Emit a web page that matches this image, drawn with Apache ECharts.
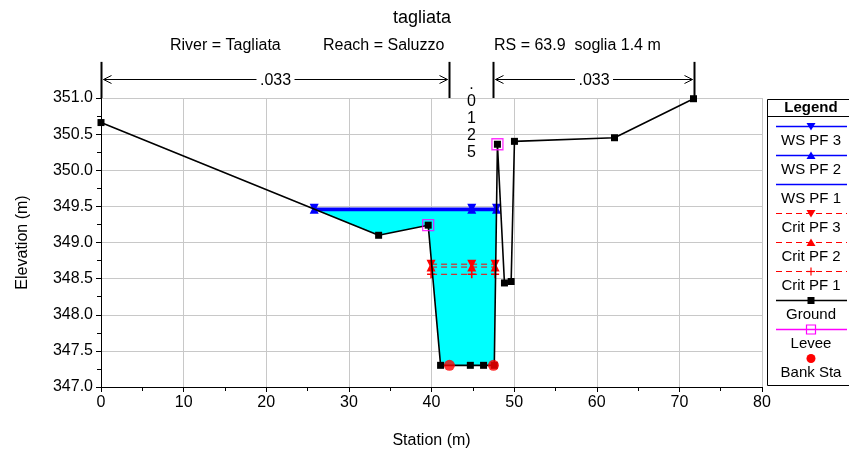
<!DOCTYPE html>
<html>
<head>
<meta charset="utf-8">
<script src="https://cdn.jsdelivr.net/npm/echarts@6/dist/echarts.min.js"></script>
<style>html,body{margin:0;padding:0;background:#fff}#c{width:849px;height:457px}</style>
</head>
<body>
<div id="c"></div>
<script>
// ---- data ----
const groundStation = [0, 33.6, 39.6, 41.1, 44.7, 46.3, 47.6, 47.98, 48.83, 49.64, 50.04, 62.15, 71.71];
const groundElev    = [350.66, 349.10, 349.24, 347.30, 347.30, 347.30, 347.30, 350.36, 348.44, 348.46, 350.40, 350.45, 350.99];
const wsStation = [25.8, 44.87, 47.87];
const wsPF1 = [349.445, 349.445, 349.445];
const wsPF2 = [349.46, 349.46, 349.46];
const wsPF3 = [349.475, 349.475, 349.475];
const critStation = [39.95, 44.87, 47.7];
const critPF1 = [348.56, 348.56, 348.56];
const critPF2 = [348.66, 348.66, 348.66];
const critPF3 = [348.70, 348.70, 348.70];
const waterStation = [25.8, 33.6, 39.6, 41.1, 44.7, 46.3, 47.6, 47.87];
const waterElev    = [349.46, 349.10, 349.24, 347.30, 347.30, 347.30, 347.30, 349.46];
const leveeStation = [39.6, 47.98];
const leveeElev    = [349.24, 350.36];
const bankStation  = [42.17, 47.5];
const bankElev     = [347.30, 347.30];
const nBounds = [0, 42.17, 47.5, 71.71];
const nValues = ['.033', '.0125', '.033'];
const legendNames = ['WS PF 3', 'WS PF 2', 'WS PF 1', 'Crit PF 3', 'Crit PF 2', 'Crit PF 1', 'Ground', 'Levee', 'Bank Sta'];

const FONT = 'Liberation Sans, Arial, sans-serif';
const zip = (a, b) => a.map((v, i) => [v, b[i]]);
const plusPath = 'path://M4,0H6V4H10V6H6V10H4V6H0V4H4Z';

const chart = echarts.init(document.getElementById('c'), null, {renderer: 'canvas'});

function lineSeries(name, xs, ys, color, dashed, symbol, z) {
  return {
    name, type: 'line', data: zip(xs, ys), z,
    lineStyle: {color, width: dashed ? 1 : 1.6, type: dashed ? [6, 4] : 'solid'},
    itemStyle: {color},
    symbol: symbol || 'none', symbolSize: symbol === plusPath ? 8 : 9, showSymbol: !!symbol,
    animation: false
  };
}

// Legend (drawn as graphic text/shapes)
const legendStyles = [
  {color: '#0000ff', dash: false, sym: 'down'},
  {color: '#0000ff', dash: false, sym: 'up'},
  {color: '#0000ff', dash: false, sym: null},
  {color: '#ff0000', dash: true, sym: 'down'},
  {color: '#ff0000', dash: true, sym: 'up'},
  {color: '#ff0000', dash: true, sym: 'plus'},
  {color: '#000000', dash: false, sym: 'square'},
  {color: '#ff00ff', dash: false, sym: 'levee'},
  {color: '#ff0000', dash: false, sym: 'circle', noLine: true}
];
const gfx = [];
const LX = 767.5, LCX = 811, LY0 = 125.5, LSTEP = 29;
gfx.push({type: 'rect', shape: {x: LX, y: 99.5, width: 120, height: 286}, style: {fill: '#fff', stroke: '#000', lineWidth: 1}, z: 10});
gfx.push({type: 'text', x: LCX, y: 107.5, style: {text: 'Legend', font: 'bold 15px ' + FONT, fill: '#000', textAlign: 'center', textVerticalAlign: 'middle'}, z: 11});
gfx.push({type: 'line', shape: {x1: LX, y1: 116.5, x2: 849, y2: 116.5}, style: {stroke: '#000', lineWidth: 1}, z: 11});
legendNames.forEach((n, i) => {
  const st = legendStyles[i];
  const y = Math.round(LY0 + LSTEP * i) + 0.5;
  if (!st.noLine) {
    gfx.push({type: 'line', shape: {x1: 776, y1: y, x2: 847, y2: y}, style: {stroke: st.color, lineWidth: st.dash ? 1.2 : 1.6, lineDash: st.dash ? [6, 4] : null}, z: 11});
  }
  const s = 4.5;
  if (st.sym === 'down') gfx.push({type: 'polygon', shape: {points: [[LCX - s, y - 3.5], [LCX + s, y - 3.5], [LCX, y + 4]]}, style: {fill: st.color}, z: 12});
  if (st.sym === 'up') gfx.push({type: 'polygon', shape: {points: [[LCX - s, y + 3.5], [LCX + s, y + 3.5], [LCX, y - 4]]}, style: {fill: st.color}, z: 12});
  if (st.sym === 'plus') {
    gfx.push({type: 'line', shape: {x1: LCX - 4, y1: y, x2: LCX + 4, y2: y}, style: {stroke: st.color, lineWidth: 1.2}, z: 12});
    gfx.push({type: 'line', shape: {x1: LCX, y1: y - 4, x2: LCX, y2: y + 4}, style: {stroke: st.color, lineWidth: 1.2}, z: 12});
  }
  if (st.sym === 'square') gfx.push({type: 'rect', shape: {x: LCX - 3.5, y: y - 3.5, width: 7, height: 7}, style: {fill: '#000'}, z: 12});
  if (st.sym === 'levee') gfx.push({type: 'rect', shape: {x: LCX - 4.5, y: y - 4.5, width: 9, height: 9}, style: {fill: 'none', stroke: st.color, lineWidth: 1.2}, z: 12});
  if (st.sym === 'circle') gfx.push({type: 'circle', shape: {cx: LCX, cy: y, r: 4.5}, style: {fill: st.color}, z: 12});
  gfx.push({type: 'text', x: LCX, y: y + 14, style: {text: n, font: '15px ' + FONT, fill: '#000', textAlign: 'center', textVerticalAlign: 'middle'}, z: 12});
});

// title texts
gfx.push({type: 'text', x: 422, y: 18, style: {text: 'tagliata', font: '18px ' + FONT, fill: '#000', textAlign: 'center', textVerticalAlign: 'middle'}});
gfx.push({type: 'text', x: 170, y: 46, style: {text: 'River = Tagliata', font: '16px ' + FONT, fill: '#000', textAlign: 'left', textVerticalAlign: 'middle'}});
gfx.push({type: 'text', x: 323, y: 46, style: {text: 'Reach = Saluzzo', font: '16px ' + FONT, fill: '#000', textAlign: 'left', textVerticalAlign: 'middle'}});
gfx.push({type: 'text', x: 494, y: 46, style: {text: 'RS = 63.9  soglia 1.4 m', font: '16px ' + FONT, fill: '#000', textAlign: 'left', textVerticalAlign: 'middle'}});

const ARROW_ELEV = 351.265, BAR_TOP = 351.5;

const option = {
  animation: false,
  textStyle: {fontFamily: FONT},
  grid: {left: 101, right: 87, top: 98, bottom: 70},
  xAxis: {
    type: 'value', min: 0, max: 80, interval: 10,
    name: 'Station (m)', nameLocation: 'middle', nameGap: 46,
    nameTextStyle: {fontSize: 16, color: '#000', fontFamily: FONT},
    axisLine: {show: true, onZero: false, lineStyle: {color: '#000', width: 1}},
    axisTick: {show: true, length: 5, lineStyle: {color: '#000'}},
    minorTick: {show: true, splitNumber: 2, length: 4, lineStyle: {color: '#000'}},
    axisLabel: {fontSize: 16, color: '#000', margin: 8, fontFamily: FONT},
    splitLine: {show: true, lineStyle: {color: '#c8c8c8', width: 1}}
  },
  yAxis: {
    type: 'value', min: 347, max: 351, interval: 0.5,
    name: 'Elevation (m)', nameLocation: 'middle', nameGap: 70,
    nameTextStyle: {fontSize: 16, color: '#000', fontFamily: FONT},
    axisLine: {show: true, onZero: false, lineStyle: {color: '#000', width: 1}},
    axisTick: {show: true, length: 5, lineStyle: {color: '#000'}},
    minorTick: {show: true, splitNumber: 2, length: 4, lineStyle: {color: '#000'}},
    axisLabel: {fontSize: 16, color: '#000', margin: 8, fontFamily: FONT, formatter: v => v.toFixed(1)},
    splitLine: {show: true, lineStyle: {color: '#c8c8c8', width: 1}}
  },
  graphic: gfx,
  series: [
    {
      type: 'custom', name: 'water', z: 1, clip: true,
      data: zip(waterStation, waterElev),
      renderItem: (params, api) => {
        if (params.dataIndex !== 0) return null;
        const pts = waterStation.map((s, i) => api.coord([s, waterElev[i]]));
        return {type: 'polygon', shape: {points: pts}, style: {fill: '#00ffff', stroke: null}};
      },
      animation: false
    },
    lineSeries('WS PF 1', wsStation, wsPF1, '#0000ff', false, null, 3),
    lineSeries('WS PF 2', wsStation, wsPF2, '#0000ff', false, 'triangle', 3),
    Object.assign(lineSeries('WS PF 3', wsStation, wsPF3, '#0000ff', false, 'triangle', 3), {symbolRotate: 180}),
    lineSeries('Crit PF 1', critStation, critPF1, '#ff0000', true, plusPath, 4),
    lineSeries('Crit PF 2', critStation, critPF2, '#ff0000', true, 'triangle', 4),
    Object.assign(lineSeries('Crit PF 3', critStation, critPF3, '#ff0000', true, 'triangle', 4), {symbolRotate: 180}),
    Object.assign(lineSeries('Ground', groundStation, groundElev, '#000000', false, 'rect', 5), {symbolSize: 7}),
    {
      name: 'Levee', type: 'scatter', data: zip(leveeStation, leveeElev), z: 6,
      symbol: 'rect', symbolSize: 11,
      itemStyle: {color: 'rgba(0,0,0,0)', borderColor: '#ff00ff', borderWidth: 1.3}
    },
    {
      name: 'Bank Sta', type: 'scatter', data: zip(bankStation, bankElev), z: 7,
      symbol: 'circle', symbolSize: 11, itemStyle: {color: '#ff0000'}
    },
    {
      type: 'custom', name: 'n', z: 8, clip: false,
      data: nValues.map((v, i) => [nBounds[i], nBounds[i + 1], 351]),
      encode: {x: [0, 1], y: 2},
      renderItem: (params, api) => {
        const i = params.dataIndex;
        const a = api.coord([api.value(0), ARROW_ELEV]);
        const b = api.coord([api.value(1), ARROW_ELEV]);
        const top = api.coord([0, BAR_TOP])[1];
        const bot = api.coord([0, 351])[1];
        const y = Math.round(a[1]) + 0.5;
        const x0 = Math.round(a[0]) + 0.5, x1 = Math.round(b[0]) + 0.5;
        const st = {stroke: '#000', lineWidth: 1};
        const ch = [];
        ch.push({type: 'line', shape: {x1: x1, y1: top, x2: x1, y2: bot}, style: {stroke: '#000', lineWidth: 2}});
        if (i === 0) ch.push({type: 'line', shape: {x1: x0, y1: top, x2: x0, y2: bot}, style: {stroke: '#000', lineWidth: 2}});
        const txt = nValues[i];
        if (x1 - x0 > 60) {
          const cx = (x0 + x1) / 2;
          const L = x0 + 2, R = x1 - 2;
          ch.push({type: 'line', shape: {x1: L, y1: y, x2: cx - 19, y2: y}, style: st});
          ch.push({type: 'line', shape: {x1: cx + 19, y1: y, x2: R, y2: y}, style: st});
          ch.push({type: 'polyline', shape: {points: [[L + 8, y - 4], [L, y], [L + 8, y + 4]]}, style: Object.assign({fill: null}, st)});
          ch.push({type: 'polyline', shape: {points: [[R - 8, y - 4], [R, y], [R - 8, y + 4]]}, style: Object.assign({fill: null}, st)});
          ch.push({type: 'text', x: cx, y: y + 1, style: {text: txt, font: '16px ' + FONT, fill: '#000', textAlign: 'center', textVerticalAlign: 'middle'}});
        } else {
          ch.push({type: 'text', x: (x0 + x1) / 2, y: top + 14, style: {text: txt.split('').join('\n'), font: '16px ' + FONT, fill: '#000', textAlign: 'center', textVerticalAlign: 'top', lineHeight: 17}});
        }
        return {type: 'group', children: ch};
      }
    }
  ]
};
chart.setOption(option);
</script>
</body>
</html>
